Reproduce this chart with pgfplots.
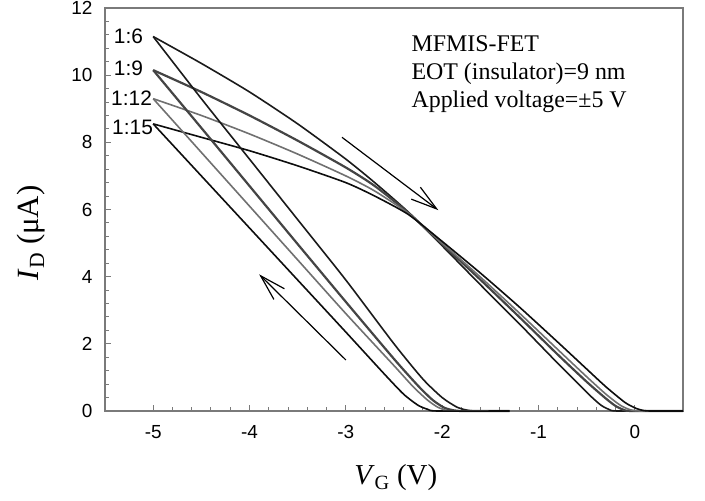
\documentclass[border=0pt]{standalone}
\usepackage{pgfplots}
\pgfplotsset{compat=1.18}
\usepackage{fontspec}
\setmainfont{Liberation Serif}
\setsansfont{Liberation Sans}
\usetikzlibrary{arrows.meta}
\definecolor{frm}{HTML}{7A7A7A}
\definecolor{cA}{HTML}{1A1A1A}
\definecolor{cB}{HTML}{444444}
\definecolor{cC}{HTML}{707070}
\definecolor{cD}{HTML}{0D0D0D}
\begin{document}
\begin{tikzpicture}
\useasboundingbox (0,0) rectangle (705bp,501bp);
\begin{axis}[
  scale only axis, width=578bp, height=403bp,
  at={(105bp,90bp)}, anchor=south west,
  xmin=-5.5, xmax=0.5, ymin=0, ymax=12,
  xtick={-5,-4,-3,-2,-1,0}, xticklabels={-5,-4,-3,-2,-1,0},
  ytick={0,2,4,6,8,10,12}, yticklabels={0,2,4,6,8,10,12},
  minor x tick num=4, minor y tick num=4,
  tick align=inside, xtick pos=left, ytick pos=left,
  major tick length=6bp, minor tick length=3.5bp,
  axis line style={draw=frm, line width=1.3bp},
  every tick/.style={draw=frm, line width=1bp},
  ticklabel style={font=\fontsize{19}{19}\sffamily},
  xticklabel style={yshift=-11bp},
  yticklabel style={xshift=-9bp},
  xlabel={\textit{V}\textsubscript{G} (V)},
  ylabel={\textit{I}\textsubscript{D} (μA)},
  xlabel style={font=\fontsize{29}{29}\selectfont, at={(axis description cs:0.503,-0.166)}, anchor=center},
  ylabel style={font=\fontsize{31}{31}\selectfont, at={(axis description cs:-0.128,0.442)}, anchor=center},
  clip=false,
]
% forward sweeps
\addplot[cA, line width=1.6bp, smooth, tension=0.4] coordinates {(-5,11.15)(-4.5,10.35)(-4,9.5)(-3.5,8.55)(-3,7.5)(-2.7,6.8)(-2.35,5.92)(-2,4.92)(-1.6,3.75)(-1.2,2.6)(-0.8,1.42)(-0.6,0.85)(-0.45,0.42)(-0.35,0.17)(-0.27,0.05)(-0.18,0)(0.5,0)};
\addplot[cB, line width=2.2bp, smooth, tension=0.4] coordinates {(-5,10.15)(-4.5,9.5)(-4,8.8)(-3.5,8.05)(-3,7.25)(-2.7,6.7)(-2.35,5.9)(-2,4.97)(-1.6,3.9)(-1.2,2.8)(-0.8,1.68)(-0.5,0.87)(-0.3,0.37)(-0.2,0.15)(-0.12,0.04)(-0.04,0)(0.5,0)};
\addplot[cC, line width=1.6bp, smooth, tension=0.4] coordinates {(-5,9.3)(-4.5,8.8)(-4,8.25)(-3.5,7.65)(-3,7.0)(-2.7,6.55)(-2.35,5.88)(-2,5.0)(-1.6,3.98)(-1.2,2.92)(-0.8,1.83)(-0.5,1.02)(-0.3,0.5)(-0.15,0.17)(-0.05,0.04)(0.05,0)(0.5,0)};
\addplot[cD, line width=1.6bp, smooth, tension=0.4] coordinates {(-5,8.55)(-4.5,8.15)(-4,7.75)(-3.5,7.3)(-3,6.8)(-2.7,6.4)(-2.35,5.85)(-2,5.05)(-1.6,4.1)(-1.2,3.1)(-0.8,2.05)(-0.5,1.25)(-0.3,0.72)(-0.1,0.25)(0.02,0.07)(0.1,0.01)(0.18,0)(0.5,0)};
% reverse sweeps
\addplot[cA, line width=1.6bp, smooth, tension=0.4] coordinates {(-5,11.15)(-4.5,9.3)(-4,7.5)(-3.5,5.7)(-3,3.9)(-2.5,2.0)(-2.2,0.95)(-2.0,0.4)(-1.85,0.12)(-1.75,0.03)(-1.65,0)(-1.3,0)};
\addplot[cB, line width=2.2bp, smooth, tension=0.4] coordinates {(-5,10.15)(-4.5,8.43)(-4,6.7)(-3.5,4.97)(-3,3.25)(-2.5,1.55)(-2.25,0.75)(-2.1,0.33)(-1.98,0.1)(-1.88,0.02)(-1.78,0)(-1.3,0)};
\addplot[cC, line width=1.6bp, smooth, tension=0.4] coordinates {(-5,9.3)(-4.5,7.7)(-4,6.1)(-3.5,4.5)(-3,2.9)(-2.5,1.35)(-2.3,0.72)(-2.15,0.32)(-2.05,0.12)(-1.97,0.03)(-1.9,0)(-1.3,0)};
\addplot[cD, line width=1.6bp, smooth, tension=0.4] coordinates {(-5,8.55)(-4.5,7.0)(-4,5.45)(-3.5,3.9)(-3,2.35)(-2.6,1.1)(-2.4,0.5)(-2.25,0.17)(-2.15,0.05)(-2.05,0)(-1.3,0)};
% ratio labels
\node[anchor=east, inner sep=0, font=\fontsize{21}{21}\sffamily, xshift=-10bp] at (axis cs:-5,11.15) {1:6};
\node[anchor=east, inner sep=0, font=\fontsize{21}{21}\sffamily, xshift=-10bp, yshift=2bp] at (axis cs:-5,10.15) {1:9};
\node[anchor=east, inner sep=0, font=\fontsize{21}{21}\sffamily, xshift=-1bp] at (axis cs:-5,9.3) {1:12};
\node[anchor=east, inner sep=0, font=\fontsize{21}{21}\sffamily, xshift=0bp, yshift=-4bp] at (axis cs:-5,8.55) {1:15};
% arrows
\draw[-{Straight Barb[length=26bp,width=15bp]}, line width=1.2bp] (axis cs:-3.04,8.15) -- (axis cs:-2.04,5.98);
\draw[-{Straight Barb[length=26bp,width=15bp]}, line width=1.2bp] (axis cs:-3.0,1.52) -- (axis cs:-3.90,4.07);
% annotation
\node[anchor=north west, align=left, inner sep=0, font=\fontsize{24}{28}\selectfont] at (axis cs:-2.32,11.19) {MFMIS-FET\\EOT (insulator)=9 nm\\Applied voltage=±5 V};
\end{axis}
\end{tikzpicture}
\end{document}
